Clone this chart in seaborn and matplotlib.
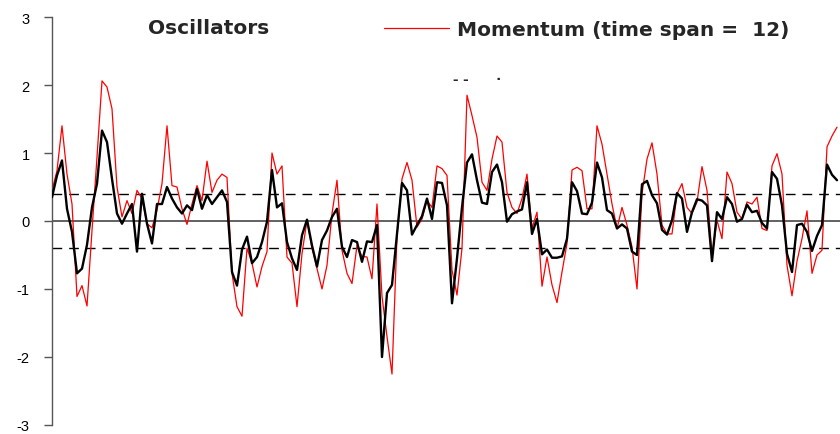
import numpy as np
import pandas as pd
import matplotlib
matplotlib.use("Agg")
import matplotlib.pyplot as plt
import seaborn as sns


# 动量值 (time span = 12), 每隔一个观测点读取
momentum = [0.45, 0.74,
            1.40, 0.69, 0.25, -1.11, -0.95, -1.25, -0.14, 0.94, 2.06, 1.97, 1.65, 0.50, 0.06, 0.30,
            0.11, 0.45, 0.33, -0.04, -0.10, 0.16, 0.55, 1.40, 0.52, 0.50, 0.18, -0.05, 0.25,
            0.52, 0.30, 0.88, 0.42, 0.60, 0.69, 0.64, -0.77, -1.26, -1.40, -0.40, -0.62, -0.97,
            -0.67, -0.45, 1.00, 0.69, 0.81, -0.53, -0.62, -1.26, -0.48, 0.01, -0.40, -0.70, -1.00,
            -0.65, 0.11, 0.60, -0.43, -0.77, -0.92, -0.36, -0.52, -0.53, -0.85, 0.25, -1.11, -1.70,
            -2.25, -0.23, 0.62, 0.86, 0.60, -0.09, 0.03, 0.30, 0.20, 0.81, 0.77, 0.67, -0.72,
            -1.09, -0.40, 1.85, 1.55, 1.23, 0.57, 0.45, 0.91, 1.25, 1.16, 0.42, 0.20, 0.11,
            0.33, 0.69, -0.11, 0.13, -0.96, -0.53, -0.94, -1.20, -0.75, -0.33, 0.75, 0.79, 0.74,
            0.18, 0.18, 1.40, 1.13, 0.69, 0.25, -0.11, 0.20, -0.06, -0.38, -1.00, 0.40, 0.91,
            1.15, 0.69, -0.06, -0.19, -0.19, 0.40, 0.55, 0.20, 0.11, 0.28, 0.80, 0.45, -0.50,
            0.01, -0.26, 0.72, 0.55, 0.13, 0.03, 0.28, 0.25, 0.35, -0.11, -0.14, 0.81, 0.99,
            0.69, -0.65, -1.10, -0.59, -0.26, 0.15, -0.77, -0.50, -0.43, 1.09, 1.25, 1.38]

# 平滑后的振荡指标
smoothed = [0.35, 0.67,
            0.89, 0.18, -0.16, -0.77, -0.70, -0.35, 0.20, 0.55, 1.33, 1.16, 0.62, 0.11, -0.04, 0.11,
            0.25, -0.45, 0.40, -0.04, -0.33, 0.25, 0.25, 0.50, 0.33, 0.20, 0.11, 0.23, 0.16,
            0.47, 0.18, 0.38, 0.25, 0.35, 0.45, 0.28, -0.75, -0.95, -0.42, -0.23, -0.62, -0.53,
            -0.31, -0.01, 0.75, 0.20, 0.26, -0.31, -0.55, -0.72, -0.21, 0.02, -0.36, -0.67, -0.28,
            -0.14, 0.06, 0.18, -0.38, -0.53, -0.28, -0.31, -0.60, -0.30, -0.31, -0.06, -2.00, -1.06,
            -0.94, -0.19, 0.56, 0.45, -0.20, -0.06, 0.07, 0.33, 0.03, 0.57, 0.56, 0.23, -1.21,
            -0.55, 0.20, 0.86, 0.98, 0.60, 0.27, 0.25, 0.72, 0.83, 0.57, -0.01, 0.10, 0.14,
            0.17, 0.57, -0.19, 0.03, -0.49, -0.42, -0.54, -0.54, -0.52, -0.26, 0.57, 0.44, 0.11,
            0.10, 0.27, 0.86, 0.64, 0.16, 0.11, -0.11, -0.05, -0.11, -0.45, -0.50, 0.54, 0.59,
            0.38, 0.26, -0.13, -0.20, 0.01, 0.41, 0.33, -0.16, 0.13, 0.32, 0.30, 0.23, -0.59,
            0.13, 0.03, 0.35, 0.25, -0.01, 0.03, 0.24, 0.13, 0.15, -0.03, -0.11, 0.72, 0.62,
            0.23, -0.48, -0.75, -0.06, -0.04, -0.16, -0.44, -0.22, -0.06, 0.83, 0.68, 0.60]

bands = [0.4, -0.4]
yticks = [-3, -2, -1, 0, 1, 2, 3]

df = pd.DataFrame({"t": np.arange(len(momentum)), "momentum": momentum, "smoothed": smoothed})

sns.set_style("white")
plt.rcParams['font.family'] = ['Liberation Sans', 'DejaVu Sans']

fig = plt.figure(figsize=(8.4, 4.35), dpi=100)
ax = fig.add_axes([52 / 840, 9 / 435, 788 / 840, 408 / 435])

# 零线和 ±0.4 虚线
ax.axhline(0, color="#555555", lw=1.3, zorder=1)
for b in bands:
    ax.axhline(b, color="black", lw=1.0, ls=(0, (7, 5)), zorder=1)

sns.lineplot(data=df, x="t", y="momentum", color="red", lw=0.9, ax=ax, zorder=2,
             label="Momentum (time span =  12)")
sns.lineplot(data=df, x="t", y="smoothed", color="black", lw=1.7, ax=ax, zorder=3)

ax.set_xlim(0, 157.6)
ax.set_ylim(-3, 3)
ax.set_yticks(yticks)
ax.set_yticklabels([str(v) for v in yticks], fontsize=10.5)
ax.set_xticks([])
ax.set_xlabel("")
ax.set_ylabel("")
for s in ["top", "right", "bottom"]:
    ax.spines[s].set_visible(False)
ax.spines["left"].set_color("#555555")
ax.spines["left"].set_linewidth(1.0)
ax.tick_params(axis="y", direction="out", length=6, width=1.0, color="#555555", pad=10,
               left=True, labelcolor="black")

bold = {"family": ["DejaVu Sans"], "weight": "bold", "size": 14.5}
leg = ax.legend(loc="upper left", bbox_to_anchor=(374 / 840, 1 - 11 / 435), bbox_transform=fig.transFigure,
                frameon=False, borderpad=0, handlelength=3.2, handletextpad=0.4, prop=bold)

fig.text(148 / 840, 1 - 29 / 435, "Oscillators", fontdict=bold, va="center")
fig.text(453 / 840, 1 - 80 / 435, "- -      \u00b7", fontsize=12, fontweight="bold", va="center")

fig.savefig("out.png", dpi=100)
